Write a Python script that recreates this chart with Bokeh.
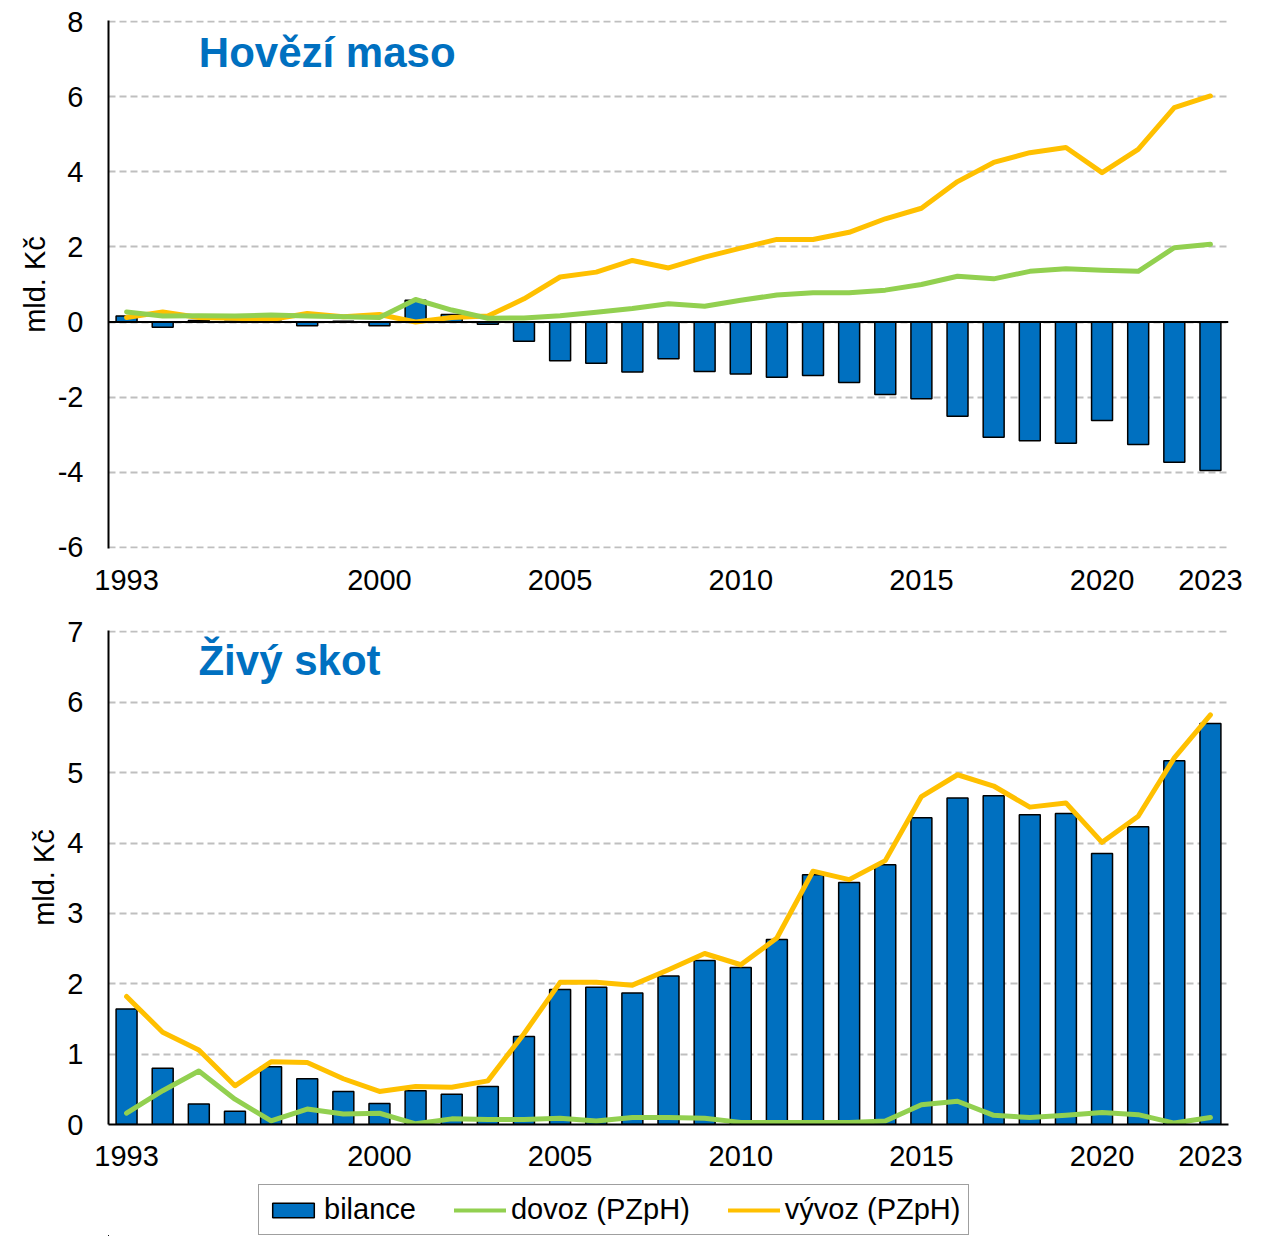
from bokeh.plotting import figure
from bokeh.models import (Range1d, FixedTicker, Span, Label, Legend, LegendItem,
                          ColumnDataSource, SingleIntervalTicker, PrintfTickFormatter)
from bokeh.layouts import column
from bokeh.embed import file_html
from bokeh.resources import INLINE

years = list(range(1993, 2024))
year_ticks = [1993, 2000, 2005, 2010, 2015, 2020, 2023]

# Hovězí maso
beef_bilance = [0.16, -0.14, 0.04, 0.02, 0.02, -0.10, 0.02, -0.10, 0.58, 0.20, -0.06, -0.51,
                -1.03, -1.10, -1.33, -0.98, -1.32, -1.38, -1.47, -1.42, -1.61, -1.93,
                -2.04, -2.51, -3.07, -3.16, -3.23, -2.62, -3.26, -3.73, -3.95]
beef_dovoz = [0.27, 0.16, 0.17, 0.16, 0.19, 0.16, 0.14, 0.12, 0.60, 0.32, 0.10, 0.11,
              0.17, 0.26, 0.36, 0.49, 0.42, 0.58, 0.72, 0.78, 0.78, 0.85,
              1.00, 1.22, 1.15, 1.35, 1.42, 1.38, 1.35, 1.98, 2.07]
beef_vyvoz = [0.12, 0.27, 0.12, 0.10, 0.07, 0.23, 0.14, 0.20, 0.00, 0.12, 0.16, 0.62,
              1.20, 1.33, 1.64, 1.44, 1.73, 1.97, 2.20, 2.20, 2.39, 2.75,
              3.03, 3.74, 4.25, 4.51, 4.65, 3.98, 4.60, 5.71, 6.02]

# Živý skot
cattle_bilance = [1.64, 0.80, 0.29, 0.19, 0.82, 0.65, 0.47, 0.30, 0.48, 0.43, 0.54, 1.25,
                  1.92, 1.95, 1.87, 2.11, 2.33, 2.23, 2.63, 3.55, 3.44, 3.69,
                  4.36, 4.64, 4.67, 4.40, 4.42, 3.85, 4.23, 5.17, 5.70]
cattle_dovoz = [0.16, 0.48, 0.76, 0.36, 0.05, 0.22, 0.15, 0.16, 0.01, 0.08, 0.07, 0.07,
                0.09, 0.05, 0.10, 0.10, 0.09, 0.03, 0.03, 0.03, 0.03, 0.05,
                0.28, 0.33, 0.13, 0.10, 0.13, 0.17, 0.14, 0.02, 0.10]
cattle_vyvoz = [1.82, 1.31, 1.06, 0.55, 0.89, 0.88, 0.65, 0.47, 0.54, 0.53, 0.62, 1.29,
                2.02, 2.02, 1.98, 2.20, 2.43, 2.27, 2.65, 3.60, 3.48, 3.75,
                4.66, 4.97, 4.81, 4.51, 4.57, 4.01, 4.38, 5.21, 5.82]

titles = ["Hovězí maso", "Živý skot"]
legend_labels = ["bilance", "dovoz (PZpH)", "vývoz (PZpH)"]

BLUE = "#0070C0"
GREEN = "#92D050"
YELLOW = "#FFC000"
FONT = "Liberation Sans"
FS = "29px"


def make_fig(height, ymin, ymax, yint, min_top, min_bottom, min_right):
    p = figure(width=1270, height=height, output_backend="svg", toolbar_location=None,
               x_range=Range1d(1992.5, 2023.5), y_range=Range1d(ymin, ymax),
               min_border_left=108, min_border_right=min_right,
               min_border_top=min_top, min_border_bottom=min_bottom)
    p.outline_line_color = None
    p.background_fill_color = "white"
    p.border_fill_color = "white"
    p.xgrid.grid_line_color = None
    p.ygrid.grid_line_color = "#BFBFBF"
    p.ygrid.grid_line_dash = "7 4"
    p.ygrid.grid_line_width = 2
    p.yaxis.ticker = SingleIntervalTicker(interval=yint)
    p.yaxis.formatter = PrintfTickFormatter(format="%d")
    p.xaxis.ticker = FixedTicker(ticks=year_ticks)
    for ax in (p.xaxis[0], p.yaxis[0]):
        ax.major_tick_out = 0
        ax.major_tick_in = 0
        ax.minor_tick_out = 0
        ax.minor_tick_in = 0
        ax.major_label_text_font = FONT
        ax.major_label_text_font_size = FS
        ax.major_label_text_color = "black"
        ax.axis_line_color = "black"
        ax.axis_line_width = 2
    p.yaxis.major_label_standoff = 25
    p.xaxis.major_label_standoff = 21
    p.yaxis.axis_label = "mld. Kč"
    p.yaxis.axis_label_text_font = FONT
    p.yaxis.axis_label_text_font_size = FS
    p.yaxis.axis_label_text_font_style = "normal"
    p.yaxis.axis_label_text_color = "black"
    p.yaxis.axis_label_standoff = 4
    return p


def draw(p, bil, dov, vyv, line_w=5):
    src = ColumnDataSource(dict(x=years, bil=bil, dov=dov, vyv=vyv))
    bars = p.vbar(x="x", top="bil", bottom=0, width=0.58, source=src,
                  fill_color=BLUE, line_color="black", line_width=1.5)
    ly = p.line("x", "vyv", source=src, line_color=YELLOW, line_width=line_w,
                line_join="round", line_cap="round")
    lg = p.line("x", "dov", source=src, line_color=GREEN, line_width=line_w,
                line_join="round", line_cap="round")
    return bars, lg, ly


def add_title(p, title, tx, ty):
    p.add_layout(Label(x=tx, y=ty, text=title, text_font=FONT, text_font_size="42px",
                       text_font_style="bold", text_color=BLUE,
                       text_baseline="middle", text_align="left"))


# top panel: page y 0..604, frame 20..548
p1 = make_fig(604, -6.03, 8.03, 2, 20, 56, 42)
p1.xaxis.axis_line_color = None
draw(p1, beef_bilance, beef_dovoz, beef_vyvoz)
add_title(p1, titles[0], 1995.0, 7.18)
p1.add_layout(Span(location=0, dimension="width", line_color="black", line_width=2))

# bottom panel: page y 604..1180, frame 630..1124
p2 = make_fig(576, 0, 7.02, 1, 26, 56, 38)
draw(p2, cattle_bilance, cattle_dovoz, cattle_vyvoz)
add_title(p2, titles[1], 1994.99, 6.60)

# legend strip: page y 1180..1236 (its series lie outside its visible ranges)
p3 = figure(width=1270, height=56, output_backend="svg", toolbar_location=None,
            x_range=Range1d(2100, 2101), y_range=Range1d(100, 101),
            x_axis_location=None, y_axis_location=None,
            min_border_left=0, min_border_right=0, min_border_top=0, min_border_bottom=0)
p3.outline_line_color = None
p3.grid.grid_line_color = None
lb, lgn, lyw = draw(p3, cattle_bilance, cattle_dovoz, cattle_vyvoz, line_w=4)

legend = Legend(items=[LegendItem(label=legend_labels[0], renderers=[lb]),
                       LegendItem(label=legend_labels[1], renderers=[lgn]),
                       LegendItem(label=legend_labels[2], renderers=[lyw])],
                orientation="horizontal", location=(150, 1))
legend.label_text_font = FONT
legend.label_text_font_size = FS
legend.label_text_color = "black"
legend.glyph_width = 52
legend.glyph_height = 18
legend.label_standoff = 5
legend.spacing = 38
legend.padding = 8
legend.margin = 0
legend.border_line_color = "#404040"
legend.border_line_width = 1.5
legend.background_fill_alpha = 1
p3.add_layout(legend)

layout = column(p1, p2, p3, spacing=0)
open("out.html", "w").write(file_html(layout, INLINE))
